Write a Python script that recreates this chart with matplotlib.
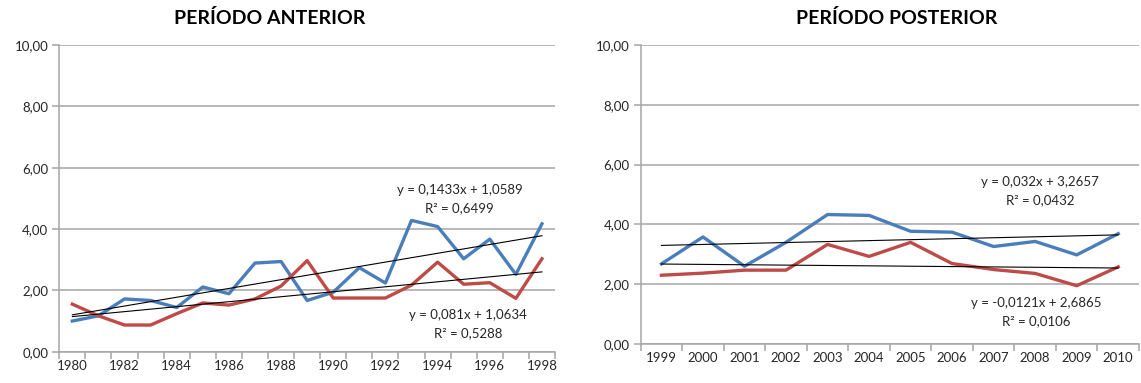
import matplotlib
matplotlib.use("Agg")
import matplotlib.pyplot as plt
from matplotlib.ticker import FuncFormatter, FixedLocator
import numpy as np

plt.rcParams['font.family'] = ['Lato', 'DejaVu Sans']

# Periodo anterior (1980-1998)
anos_ant = list(range(1980, 1999))
azul_ant = [1.00, 1.17, 1.72, 1.67, 1.44, 2.11, 1.89, 2.89, 2.94, 1.67,
            1.94, 2.74, 2.24, 4.28, 4.08, 3.03, 3.67, 2.52, 4.17]
verm_ant = [1.55, 1.17, 0.87, 0.87, 1.24, 1.59, 1.52, 1.72, 2.14, 2.97,
            1.75, 1.75, 1.75, 2.17, 2.92, 2.20, 2.25, 1.74, 3.03]

# Periodo posterior (1999-2010)
anos_post = list(range(1999, 2011))
azul_post = [2.68, 3.58, 2.60, 3.40, 4.33, 4.30, 3.77, 3.74, 3.26, 3.43, 2.98, 3.69]
verm_post = [2.30, 2.37, 2.47, 2.47, 3.33, 2.93, 3.40, 2.69, 2.49, 2.36, 1.95, 2.58]

# linhas de tendencia (inclinacao, intercepto, R2)
tend_ant = [(0.1433, 1.0589, 0.6499), (0.081, 1.0634, 0.5288)]
tend_post = [(0.032, 3.2657, 0.0432), (-0.0121, 2.6865, 0.0106)]

AZUL = '#4A7EBB'
VERM = '#BE4B48'
CINZA = '#A6A6A6'
TXT = '#262626'


def virgula(v, dec):
    return f"{v:.{dec}f}".replace('.', ',')


def coef(v):
    s = repr(v).replace('.', ',')
    return s


def desenha(ax, anos, azul, verm, tend, rotulos, pos_txt):
    n = len(anos)
    x = np.arange(n)
    ax.set_xlim(-0.5, n - 0.5)
    ax.set_ylim(0, 10)
    for v in range(0, 11, 2):
        ax.axhline(v, color=CINZA, lw=1.1, zorder=1)
    ax.plot(x, azul, color=AZUL, lw=2.4, zorder=3, solid_joinstyle='round')
    ax.plot(x, verm, color=VERM, lw=2.4, zorder=3, solid_joinstyle='round')
    for m, b, r2 in tend:
        ax.plot(x, m * (x + 1) + b, color='black', lw=0.8, zorder=4)
    for (m, b, r2), (px, py) in zip(tend, pos_txt):
        sinal = '-' if m < 0 else ''
        ax.text(px, py, f"y = {sinal}{coef(abs(m))}x + {coef(b)}",
                transform=ax.transAxes, ha='center', va='center',
                fontsize=9.5, color=TXT)
        ax.text(px, py - 0.06, f"R² = {virgula(r2, 4)}",
                transform=ax.transAxes, ha='center', va='center',
                fontsize=9.5, color=TXT)

    ax.set_yticks(range(0, 11, 2))
    ax.yaxis.set_major_formatter(FuncFormatter(lambda v, p: virgula(v, 2)))
    ax.xaxis.set_major_locator(FixedLocator(np.arange(-0.5, n, 1)))
    ax.set_xticklabels([])
    ax.xaxis.set_minor_locator(FixedLocator([i for i in x if rotulos[i]]))
    ax.set_xticklabels([r for r in rotulos if r], minor=True)
    ax.tick_params(axis='x', which='major', length=5, color=CINZA, width=1.1)
    ax.tick_params(axis='x', which='minor', length=0, pad=6,
                   labelsize=9.5, labelcolor=TXT)
    ax.tick_params(axis='y', length=5, color=CINZA, width=1.1,
                   labelsize=9.5, labelcolor=TXT, pad=3)
    for lado in ['top', 'right']:
        ax.spines[lado].set_visible(False)
    for lado in ['left', 'bottom']:
        ax.spines[lado].set_color(CINZA)
        ax.spines[lado].set_linewidth(1.1)
        ax.spines[lado].set_zorder(2)


W, H = 1141, 383
fig = plt.figure(figsize=(W / 100, H / 100), dpi=100)

ax1 = fig.add_axes([59.3 / W, 1 - 351.7 / H, (555 - 59.3) / W, (351.7 - 45) / H])
ax2 = fig.add_axes([640.7 / W, 1 - 344 / H, (1139 - 640.7) / W, (344 - 45) / H])

rot_ant = [str(a) if (a - 1980) % 2 == 0 else '' for a in anos_ant]
rot_post = [str(a) for a in anos_post]

desenha(ax1, anos_ant, azul_ant, verm_ant, tend_ant, rot_ant,
        [(0.808, 0.527), (0.8245, 0.1197)])
desenha(ax2, anos_post, azul_post, verm_post, tend_post, rot_post,
        [(0.801, 0.542), (0.793, 0.136)])

fig.text(270 / W, 1 - 18 / H, 'PERÍODO ANTERIOR', ha='center', va='center',
         fontsize=14, fontweight='bold', color='black')
fig.text(897 / W, 1 - 18 / H, 'PERÍODO POSTERIOR', ha='center', va='center',
         fontsize=14, fontweight='bold', color='black')

fig.savefig('out.png', dpi=100)
